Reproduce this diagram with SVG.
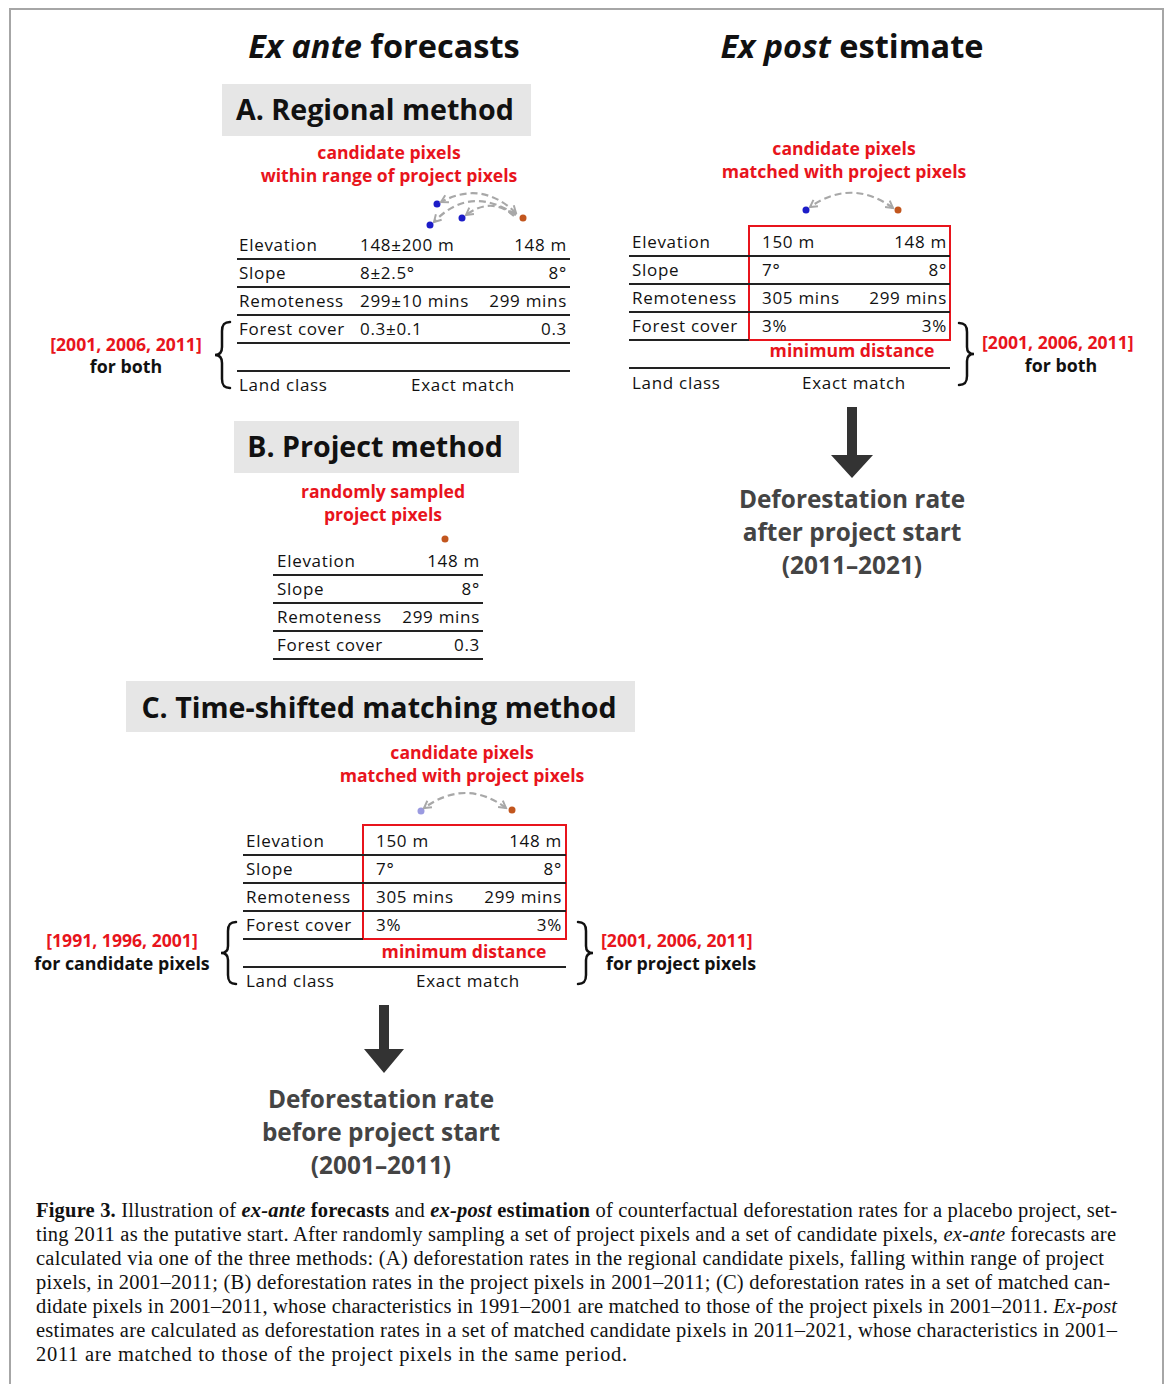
<svg xmlns="http://www.w3.org/2000/svg" width="1171" height="1384" viewBox="0 0 1171 1384">
<defs>
<style>
.frame{fill:none;stroke:#a6a6a6;stroke-width:2}
.h1{font-family:"Open Sans","Liberation Sans",sans-serif;font-weight:700;font-size:32.5px;fill:#111}
.boxbg{fill:#e6e6e6}
.bt{font-family:"Open Sans","Liberation Sans",sans-serif;font-weight:700;font-size:28.6px;fill:#111}
.red{font-family:"Open Sans","Liberation Sans",sans-serif;font-weight:700;font-size:17.6px;fill:#e8141c}
.blk{font-family:"Open Sans","Liberation Sans",sans-serif;font-weight:700;font-size:17.8px;fill:#111}
.t{font-family:"Open Sans","Liberation Sans",sans-serif;font-size:17px;letter-spacing:0.7px;fill:#111}
.r{text-anchor:end}
.m{text-anchor:middle}
.ln{stroke:#222;stroke-width:2}
.rbox{fill:none;stroke:#e8141c;stroke-width:2}
.brace{fill:none;stroke:#111;stroke-width:2.5;stroke-linecap:round}
.dash{fill:none;stroke:#a8a8a8;stroke-width:2.2;stroke-dasharray:7 4}
.out{font-family:"Open Sans","Liberation Sans",sans-serif;font-weight:700;font-size:24.4px;fill:#444;text-anchor:middle}
.cap{font-family:"Liberation Serif","Times New Roman",serif;font-size:20.5px;fill:#111}
.blue{fill:#1c1cc8}
.org{fill:#c2561e}
.darrow{fill:#333}
</style>
<marker id="ah" viewBox="0 0 10 10" refX="8" refY="5" markerWidth="4.5" markerHeight="4.5" orient="auto-start-reverse" markerUnits="strokeWidth">
<path d="M1,1 L8,5 L1,9" fill="none" stroke="#a8a8a8" stroke-width="2"/>
</marker>
</defs>
<rect width="1171" height="1384" fill="#fff"/>
<path class="frame" d="M10,1384 L10,9 L1163,9 L1163,1384"/>

<g id="headings">
<text class="h1 m" x="384" y="58"><tspan font-style="italic">Ex ante</tspan> forecasts</text>
<text class="h1 m" x="852" y="58"><tspan font-style="italic">Ex post</tspan> estimate</text>
</g>

<g id="regional-method">
<rect class="boxbg" x="222" y="84" width="309" height="52"/>
<text class="bt m" x="375" y="120">A. Regional method</text>
<text class="red m" x="389" y="159">candidate pixels</text>
<text class="red m" x="389" y="182">within range of project pixels</text>
<circle class="blue" cx="437" cy="204" r="3.5"/>
<circle class="blue" cx="430" cy="225" r="3.5"/>
<circle class="blue" cx="462" cy="218" r="3.5"/>
<circle class="org" cx="523" cy="218" r="3.5"/>
<text class="t" x="239" y="251">Elevation</text><text class="t" x="360" y="251">148±200 m</text><text class="t r" x="567" y="251">148 m</text>
<line class="ln" x1="237" y1="259" x2="570" y2="259"/>
<text class="t" x="239" y="279">Slope</text><text class="t" x="360" y="279">8±2.5°</text><text class="t r" x="567" y="279">8°</text>
<line class="ln" x1="237" y1="287" x2="570" y2="287"/>
<text class="t" x="239" y="307">Remoteness</text><text class="t" x="360" y="307">299±10 mins</text><text class="t r" x="567" y="307">299 mins</text>
<line class="ln" x1="237" y1="315" x2="570" y2="315"/>
<text class="t" x="239" y="335">Forest cover</text><text class="t" x="360" y="335">0.3±0.1</text><text class="t r" x="567" y="335">0.3</text>
<line class="ln" x1="237" y1="343" x2="570" y2="343"/>
<line class="ln" x1="237" y1="371" x2="570" y2="371"/>
<text class="t" x="239" y="391">Land class</text><text class="t m" x="463" y="391">Exact match</text>
<path class="brace" d="M230,322 C224,322 222,325 222,331 L222,347 C222,353 219,355 215,355 C219,355 222,357 222,363 L222,379 C222,385 224,388 230,388"/>
<text class="red m" x="126" y="351">[2001, 2006, 2011]</text>
<text class="blk m" x="126" y="373">for both</text>
</g>

<g id="project-method">
<rect class="boxbg" x="234" y="421" width="285" height="52"/>
<text class="bt m" x="375" y="457">B. Project method</text>
<text class="red m" x="383" y="498">randomly sampled</text>
<text class="red m" x="383" y="521">project pixels</text>
<circle class="org" cx="445" cy="539" r="3.5"/>
<text class="t" x="277" y="567">Elevation</text><text class="t r" x="480" y="567">148 m</text>
<line class="ln" x1="273" y1="575" x2="483" y2="575"/>
<text class="t" x="277" y="595">Slope</text><text class="t r" x="480" y="595">8°</text>
<line class="ln" x1="273" y1="603" x2="483" y2="603"/>
<text class="t" x="277" y="623">Remoteness</text><text class="t r" x="480" y="623">299 mins</text>
<line class="ln" x1="273" y1="631" x2="483" y2="631"/>
<text class="t" x="277" y="651">Forest cover</text><text class="t r" x="480" y="651">0.3</text>
<line class="ln" x1="273" y1="659" x2="483" y2="659"/>
</g>

<g id="time-shifted-method">
<rect class="boxbg" x="126" y="681" width="509" height="51"/>
<text class="bt m" x="379" y="718">C. Time-shifted matching method</text>
<text class="red m" x="462" y="759">candidate pixels</text>
<text class="red m" x="462" y="782">matched with project pixels</text>
<circle cx="421" cy="811" r="3.5" fill="#9a9ae0"/>
<circle class="org" cx="512" cy="810" r="3.5"/>
<rect class="rbox" x="363" y="825" width="203" height="114"/>
<text class="t" x="246" y="847">Elevation</text><text class="t" x="376" y="847">150 m</text><text class="t r" x="562" y="847">148 m</text>
<line class="ln" x1="243" y1="855" x2="566" y2="855"/>
<text class="t" x="246" y="875">Slope</text><text class="t" x="376" y="875">7°</text><text class="t r" x="562" y="875">8°</text>
<line class="ln" x1="243" y1="883" x2="566" y2="883"/>
<text class="t" x="246" y="903">Remoteness</text><text class="t" x="376" y="903">305 mins</text><text class="t r" x="562" y="903">299 mins</text>
<line class="ln" x1="243" y1="911" x2="566" y2="911"/>
<text class="t" x="246" y="931">Forest cover</text><text class="t" x="376" y="931">3%</text><text class="t r" x="562" y="931">3%</text>
<line class="ln" x1="243" y1="939" x2="363" y2="939"/>
<text class="red m" x="464" y="958">minimum distance</text>
<line class="ln" x1="243" y1="967" x2="566" y2="967"/>
<text class="t" x="246" y="987">Land class</text><text class="t m" x="468" y="987">Exact match</text>
<path class="brace" d="M236,922 C230,922 228,925 228,931 L228,946 C228,951 225,953 221,953 C225,953 228,955 228,960 L228,975 C228,981 230,984 236,984"/>
<text class="red m" x="122" y="947">[1991, 1996, 2001]</text>
<text class="blk m" x="122" y="970">for candidate pixels</text>
<path class="brace" d="M578,922 C584,922 586,925 586,931 L586,946 C586,951 589,953 593,953 C589,953 586,955 586,960 L586,975 C586,981 584,984 578,984"/>
<text class="red" x="601" y="947">[2001, 2006, 2011]</text>
<text class="blk" x="606" y="970">for project pixels</text>
<path class="darrow" d="M379,1005 L389,1005 L389,1049 L404,1049 L384,1073 L364,1049 L379,1049 Z"/>
<text class="out" x="381" y="1108">Deforestation rate</text>
<text class="out" x="381" y="1141">before project start</text>
<text class="out" x="381" y="1174">(2001–2011)</text>
</g>

<g id="ex-post-estimate">
<text class="red m" x="844" y="155">candidate pixels</text>
<text class="red m" x="844" y="178">matched with project pixels</text>
<circle class="blue" cx="806" cy="210" r="3.5"/>
<circle class="org" cx="898" cy="210" r="3.5"/>
<rect class="rbox" x="749" y="226" width="201" height="114"/>
<text class="t" x="632" y="248">Elevation</text><text class="t" x="762" y="248">150 m</text><text class="t r" x="947" y="248">148 m</text>
<line class="ln" x1="629" y1="256" x2="950" y2="256"/>
<text class="t" x="632" y="276">Slope</text><text class="t" x="762" y="276">7°</text><text class="t r" x="947" y="276">8°</text>
<line class="ln" x1="629" y1="284" x2="950" y2="284"/>
<text class="t" x="632" y="304">Remoteness</text><text class="t" x="762" y="304">305 mins</text><text class="t r" x="947" y="304">299 mins</text>
<line class="ln" x1="629" y1="312" x2="950" y2="312"/>
<text class="t" x="632" y="332">Forest cover</text><text class="t" x="762" y="332">3%</text><text class="t r" x="947" y="332">3%</text>
<line class="ln" x1="629" y1="340" x2="749" y2="340"/>
<text class="red m" x="852" y="357">minimum distance</text>
<line class="ln" x1="629" y1="368" x2="950" y2="368"/>
<text class="t" x="632" y="389">Land class</text><text class="t m" x="854" y="389">Exact match</text>
<path class="brace" d="M959,323 C965,323 967,326 967,332 L967,347 C967,352 970,354 974,354 C970,354 967,356 967,361 L967,376 C967,382 965,385 959,385"/>
<text class="red" x="982" y="349">[2001, 2006, 2011]</text>
<text class="blk m" x="1061" y="372">for both</text>
<path class="darrow" d="M847,407 L857,407 L857,455 L873,455 L852,478 L831,455 L847,455 Z"/>
<text class="out" x="852" y="508">Deforestation rate</text>
<text class="out" x="852" y="541">after project start</text>
<text class="out" x="852" y="574">(2011–2021)</text>
</g>

<g id="connectors">
<path class="dash" d="M516,213 Q482,180 441,202" marker-start="url(#ah)" marker-end="url(#ah)"/>
<path class="dash" d="M516,215 Q470,184 434,222" marker-end="url(#ah)"/>
<path class="dash" d="M514,216 Q492,196 466,215" marker-end="url(#ah)"/>
<path class="dash" d="M893,208 Q852,178 810,207" marker-start="url(#ah)" marker-end="url(#ah)"/>
<path class="dash" d="M506,808 Q466,778 424,808" marker-start="url(#ah)" marker-end="url(#ah)"/>
</g>

<g id="caption">
<text class="cap" x="36" y="1217" textLength="1081" lengthAdjust="spacing"><tspan font-weight="700">Figure 3.</tspan> Illustration of <tspan font-weight="700" font-style="italic">ex-ante</tspan> <tspan font-weight="700">forecasts</tspan> and <tspan font-weight="700" font-style="italic">ex-post</tspan> <tspan font-weight="700">estimation</tspan> of counterfactual deforestation rates for a placebo project, set-</text>
<text class="cap" x="36" y="1241" textLength="1080" lengthAdjust="spacing">ting 2011 as the putative start. After randomly sampling a set of project pixels and a set of candidate pixels, <tspan font-style="italic">ex-ante</tspan> forecasts are</text>
<text class="cap" x="36" y="1265" textLength="1068" lengthAdjust="spacing">calculated via one of the three methods: (A) deforestation rates in the regional candidate pixels, falling within range of project</text>
<text class="cap" x="36" y="1289" textLength="1074" lengthAdjust="spacing">pixels, in 2001–2011; (B) deforestation rates in the project pixels in 2001–2011; (C) deforestation rates in a set of matched can-</text>
<text class="cap" x="36" y="1313" textLength="1081" lengthAdjust="spacing">didate pixels in 2001–2011, whose characteristics in 1991–2001 are matched to those of the project pixels in 2001–2011. <tspan font-style="italic">Ex-post</tspan></text>
<text class="cap" x="36" y="1337" textLength="1081" lengthAdjust="spacing">estimates are calculated as deforestation rates in a set of matched candidate pixels in 2011–2021, whose characteristics in 2001–</text>
<text class="cap" x="36" y="1361" textLength="591" lengthAdjust="spacing">2011 are matched to those of the project pixels in the same period.</text>
</g>
</svg>
